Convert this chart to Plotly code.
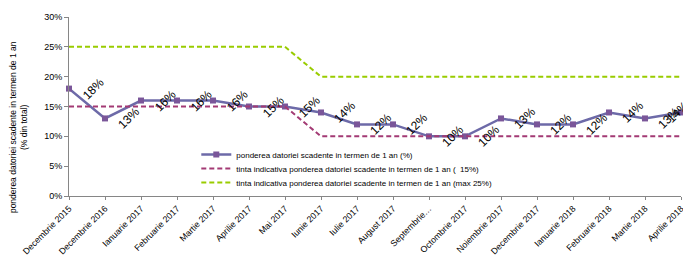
import plotly.graph_objects as go

categories = ["Decembrie 2015", "Decembrie 2016", "Ianuarie 2017", "Februarie 2017", "Martie 2017",
              "Aprilie 2017", "Mai 2017", "Iunie 2017", "Iulie 2017", "August 2017", "Septembrie…",
              "Octombrie 2017", "Noiembrie 2017", "Decembrie 2017", "Ianuarie 2018", "Februarie 2018",
              "Martie 2018", "Aprilie 2018"]
pondere = [18, 13, 16, 16, 16, 15, 15, 14, 12, 12, 10, 10, 13, 12, 12, 14, 13, 14]
tinta_15 = [15, 15, 15, 15, 15, 15, 15, 10, 10, 10, 10, 10, 10, 10, 10, 10, 10, 10]
tinta_25 = [25, 25, 25, 25, 25, 25, 25, 20, 20, 20, 20, 20, 20, 20, 20, 20, 20, 20]
y_ticks = [0, 5, 10, 15, 20, 25, 30]
y_tick_labels = ["0%", "5%", "10%", "15%", "20%", "25%", "30%"]

names = ["ponderea datoriei scadente in termen de 1 an (%)",
         "tinta indicativa ponderea datoriei scadente in termen de 1 an (  15%)",
         "tinta indicativa ponderea datoriei scadente in termen de 1 an (max 25%)"]

FONT = "Liberation Sans, Arial, sans-serif"

fig = go.Figure()
fig.add_trace(go.Scatter(x=categories, y=pondere, name=names[0], mode="lines+markers",
                         line=dict(color="#6D6AA8", width=2.5),
                         marker=dict(symbol="square", size=6, color="#7A5699"),
                         cliponaxis=False, legend="legend"))
fig.add_trace(go.Scatter(x=categories, y=tinta_15, name=names[1], mode="lines",
                         line=dict(color="#A33A74", width=2, dash="5px,3px"), legend="legend2"))
fig.add_trace(go.Scatter(x=categories, y=tinta_25, name=names[2], mode="lines",
                         line=dict(color="#99CC00", width=2, dash="5px,3px"), legend="legend3"))

n = len(categories)
for i, (c, v) in enumerate(zip(categories, pondere)):
    # the last label is pulled back inside the chart, as in the original
    shift = -3 if i == n - 1 else 24
    fig.add_annotation(x=c, y=v, text=f"{v}%", showarrow=False, textangle=-45,
                       xshift=shift, yshift=0, font=dict(family=FONT, size=12, color="#000000"))

fig.add_annotation(xref="paper", yref="paper", x=0, y=0.385, xshift=-51,
                   xanchor="center", yanchor="middle",
                   text="ponderea datoriei scadente in termen de 1 an<br>(% din total)",
                   showarrow=False, textangle=-90,
                   font=dict(family=FONT, size=8.5, color="#000000"))

leg_common = dict(xanchor="left", yanchor="top", bgcolor="rgba(255,255,255,0)",
                  font=dict(family=FONT, size=8, color="#000000"), itemwidth=30)

fig.update_layout(
    width=683, height=247,
    margin=dict(l=61, r=10, t=9, b=59, autoexpand=False),
    plot_bgcolor="white", paper_bgcolor="white",
    font=dict(family=FONT, size=9, color="#000000"),
    showlegend=True,
    legend=dict(x=0.208, y=0.313, **leg_common),
    legend2=dict(x=0.208, y=0.235, **leg_common),
    legend3=dict(x=0.208, y=0.156, **leg_common),
    xaxis=dict(type="category", range=[0, 17], showgrid=False, showline=True, linecolor="#868686",
               linewidth=1, ticks="outside", ticklen=3, tickcolor="#868686", tickangle=-45,
               tickfont=dict(family=FONT, size=8.8), zeroline=False, automargin=False),
    yaxis=dict(range=[0, 30], tickvals=y_ticks, ticktext=y_tick_labels, showgrid=False,
               showline=True, linecolor="#868686", linewidth=1, ticks="outside", ticklen=4,
               tickcolor="#868686", tickfont=dict(family=FONT, size=9), zeroline=False,
               automargin=False),
)

fig.write_html("out.html")
